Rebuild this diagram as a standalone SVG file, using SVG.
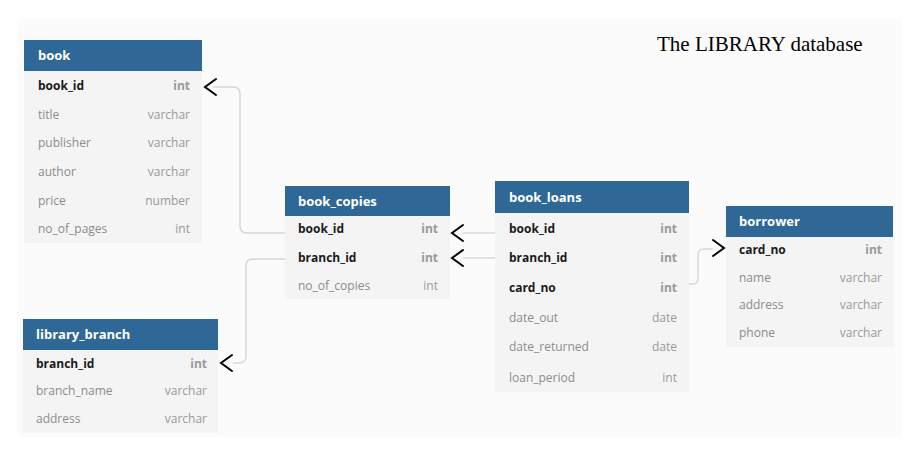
<svg xmlns="http://www.w3.org/2000/svg" width="910" height="457" viewBox="0 0 910 457">
<style>
.hdr{fill:#2f6896}
.body{fill:#f4f4f4}
.ht{font-family:"Open Sans","Liberation Sans",sans-serif;font-size:13px;font-weight:bold;fill:#ffffff}
.k{font-family:"Open Sans","Liberation Sans",sans-serif;font-size:12px;font-weight:bold;fill:#1a1a1a}
.f{font-family:"Open Sans","Liberation Sans",sans-serif;font-size:12px;fill:#8c8c8c}
.t{font-family:"Open Sans","Liberation Sans",sans-serif;font-size:12px;fill:#9a9a9a;text-anchor:end}
.tk{font-family:"Open Sans","Liberation Sans",sans-serif;font-size:12px;font-weight:bold;fill:#9a9a9a;text-anchor:end}
.ln{fill:none;stroke:#d8d8d8;stroke-width:1.5}
.ar{fill:none;stroke:#000000;stroke-width:2;stroke-linecap:round;stroke-linejoin:miter}
.title{font-family:"Liberation Serif","Times New Roman",serif;font-size:21px;fill:#000000}
</style>
<rect x="0" y="0" width="910" height="457" fill="#ffffff"/>
<rect x="17" y="19" width="885" height="418" fill="#fbfbfb"/>
<text class="title" x="657" y="51">The LIBRARY database</text>

<g id="connectors">
  <path class="ln" d="M213 87 H233 Q240 87 240 94 V226 Q240 233 247 233 H285"/>
  <path class="ar" d="M216 79 L205 87 L216 95"/>
  <path class="ln" d="M463 233 H495"/>
  <path class="ar" d="M463 225 L452 233 L463 241"/>
  <path class="ln" d="M463 258 H495"/>
  <path class="ar" d="M463 250 L452 258 L463 266"/>
  <path class="ln" d="M285 259 H253 Q246 259 246 266 V356 Q246 363 239 363 H233"/>
  <path class="ar" d="M232 355 L221 363 L232 371"/>
  <path class="ln" d="M689 284 H693 Q698 284 698 278 V255 Q698 249 704 249 H713"/>
  <path class="ar" d="M713 240 L724 248 L713 256"/>
</g>

<g id="book">
  <rect class="body" x="24" y="71" width="178" height="172"/>
  <rect class="hdr" x="24" y="40" width="178" height="31"/>
  <text class="ht" x="38" y="60">book</text>
  <text class="k" x="38" y="90">book_id</text><text class="tk" x="190" y="90">int</text>
  <text class="f" x="38" y="119">title</text><text class="t" x="190" y="119">varchar</text>
  <text class="f" x="38" y="147">publisher</text><text class="t" x="190" y="147">varchar</text>
  <text class="f" x="38" y="176">author</text><text class="t" x="190" y="176">varchar</text>
  <text class="f" x="38" y="205">price</text><text class="t" x="190" y="205">number</text>
  <text class="f" x="38" y="233">no_of_pages</text><text class="t" x="190" y="233">int</text>
</g>

<g id="book_copies">
  <rect class="body" x="285" y="216" width="165" height="83"/>
  <rect class="hdr" x="285" y="186" width="165" height="30"/>
  <text class="ht" x="298" y="206">book_copies</text>
  <text class="k" x="298" y="233">book_id</text><text class="tk" x="438" y="233">int</text>
  <text class="k" x="298" y="262">branch_id</text><text class="tk" x="438" y="262">int</text>
  <text class="f" x="298" y="290">no_of_copies</text><text class="t" x="438" y="290">int</text>
</g>

<g id="book_loans">
  <rect class="body" x="495" y="213" width="194" height="179"/>
  <rect class="hdr" x="495" y="181" width="194" height="32"/>
  <text class="ht" x="509" y="202">book_loans</text>
  <text class="k" x="509" y="233">book_id</text><text class="tk" x="677" y="233">int</text>
  <text class="k" x="509" y="262">branch_id</text><text class="tk" x="677" y="262">int</text>
  <text class="k" x="509" y="292">card_no</text><text class="tk" x="677" y="292">int</text>
  <text class="f" x="509" y="322">date_out</text><text class="t" x="677" y="322">date</text>
  <text class="f" x="509" y="351">date_returned</text><text class="t" x="677" y="351">date</text>
  <text class="f" x="509" y="382">loan_period</text><text class="t" x="677" y="382">int</text>
</g>

<g id="borrower">
  <rect class="body" x="726" y="237" width="167" height="110"/>
  <rect class="hdr" x="726" y="206" width="167" height="31"/>
  <text class="ht" x="739" y="226">borrower</text>
  <text class="k" x="739" y="254">card_no</text><text class="tk" x="882" y="254">int</text>
  <text class="f" x="739" y="282">name</text><text class="t" x="882" y="282">varchar</text>
  <text class="f" x="739" y="309">address</text><text class="t" x="882" y="309">varchar</text>
  <text class="f" x="739" y="337">phone</text><text class="t" x="882" y="337">varchar</text>
</g>

<g id="library_branch">
  <rect class="body" x="23" y="350" width="195" height="83"/>
  <rect class="hdr" x="23" y="319" width="195" height="31"/>
  <text class="ht" x="36" y="339">library_branch</text>
  <text class="k" x="36" y="368">branch_id</text><text class="tk" x="207" y="368">int</text>
  <text class="f" x="36" y="395">branch_name</text><text class="t" x="207" y="395">varchar</text>
  <text class="f" x="36" y="423">address</text><text class="t" x="207" y="423">varchar</text>
</g>
</svg>
